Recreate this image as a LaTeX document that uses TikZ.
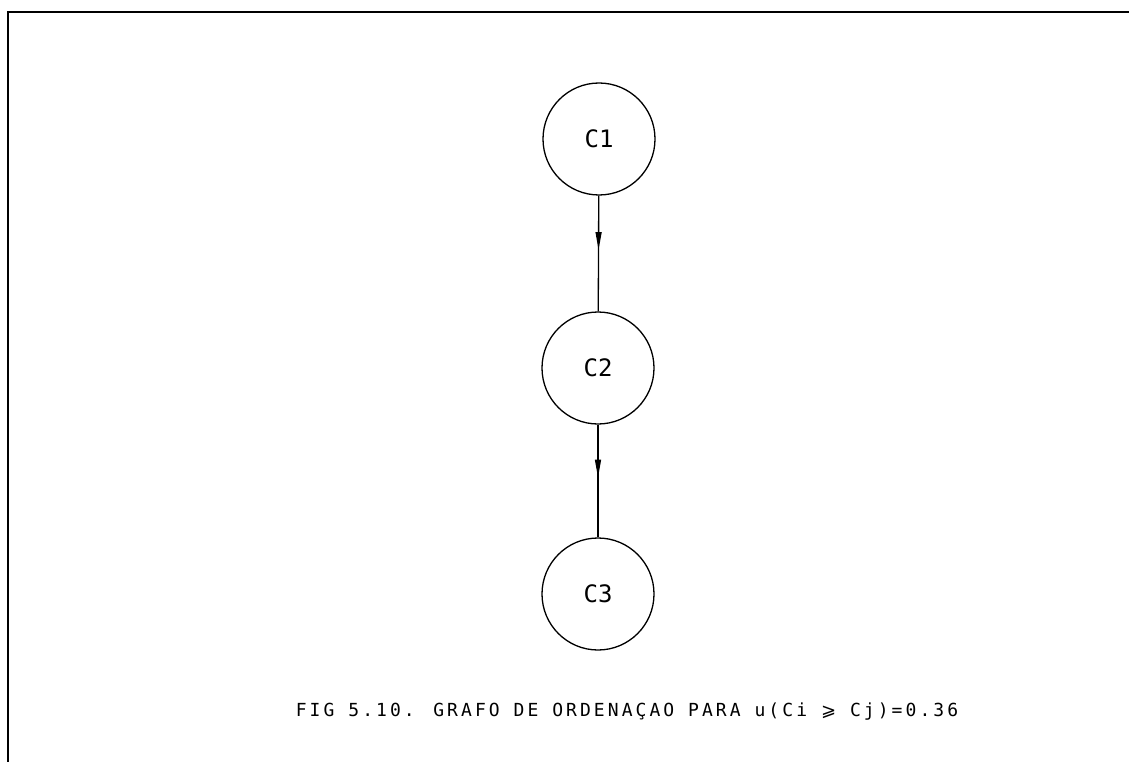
\documentclass[tikz,border=0pt]{standalone}
\usepackage{fontspec}
\setmonofont{DejaVu Sans Mono}
\newfontfamily\capfont[LetterSpace=17]{DejaVu Sans Mono}
\newfontfamily\symfont{DejaVu Sans}
\usetikzlibrary{arrows.meta,decorations.markings}
\begin{document}
\begin{tikzpicture}[x=1pt,y=-1pt,
  cnode/.style={circle,draw,line width=1.3pt,minimum size=112pt,inner sep=0pt,font=\ttfamily\fontsize{24}{26}\selectfont},
  edge/.style={line width=1.3pt,postaction={decorate},decoration={markings,mark=at position 0.47 with {\arrow{Triangle[length=18pt,width=6pt]}}}},
  frame/.style={line width=2pt}]
\useasboundingbox (0,0) rectangle (1129,762);
\coordinate (tl) at (8,12);
\coordinate (tr) at (1129,12);
\coordinate (bl) at (8,762);
\draw[frame] (tr) -- (tl) -- (bl);
\node[cnode] (c1) at (599,139) {C1};
\node[cnode] (c2) at (598,368) {C2};
\node[cnode] (c3) at (598,594) {C3};
\draw[edge] (c1) -- (c2);
\draw[edge] (c2) -- (c3);
\node (cap) at (627,712) {\capfont\fontsize{18}{20}\selectfont FIG 5.10. GRAFO DE ORDENAÇAO PARA u(Ci {\symfont ⩾} Cj)=0.36};
\end{tikzpicture}
\end{document}
